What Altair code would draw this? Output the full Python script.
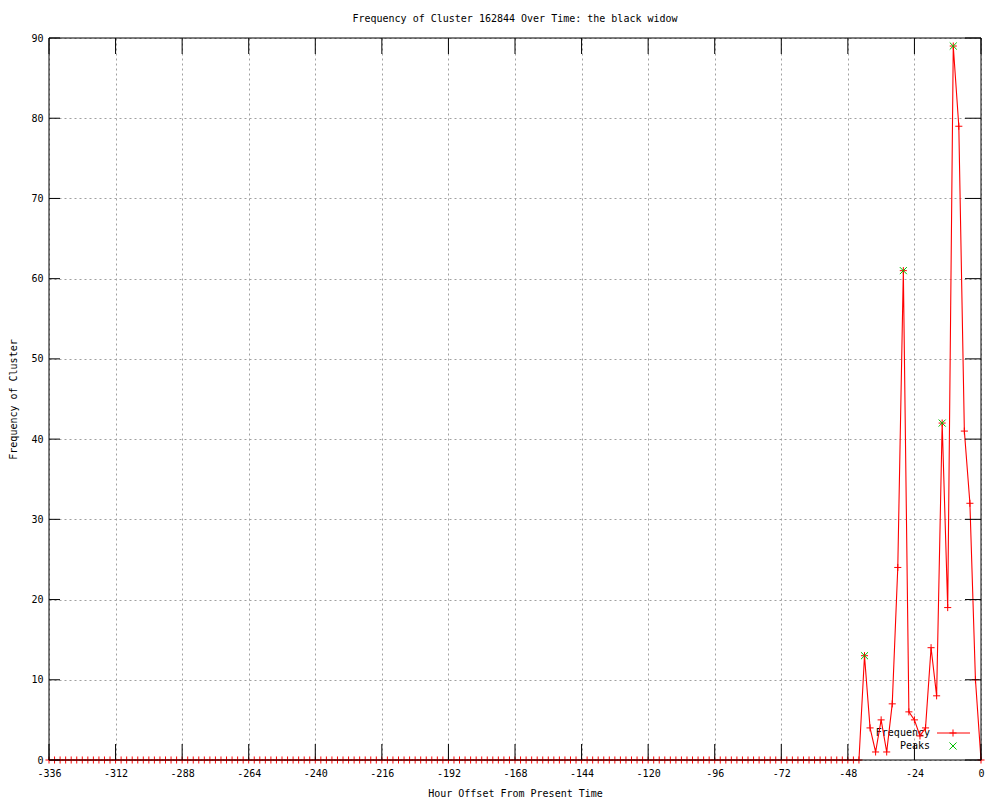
import altair as alt
import pandas as pd

# ---- data ----
hours = list(range(-336, 1, 2))
frequency = [
    0, 0, 0, 0, 0, 0, 0, 0, 0, 0, 0, 0, 0, 0, 0, 0, 0, 0, 0, 0, 0,
    0, 0, 0, 0, 0, 0, 0, 0, 0, 0, 0, 0, 0, 0, 0, 0, 0, 0, 0, 0, 0,
    0, 0, 0, 0, 0, 0, 0, 0, 0, 0, 0, 0, 0, 0, 0, 0, 0, 0, 0, 0, 0,
    0, 0, 0, 0, 0, 0, 0, 0, 0, 0, 0, 0, 0, 0, 0, 0, 0, 0, 0, 0, 0,
    0, 0, 0, 0, 0, 0, 0, 0, 0, 0, 0, 0, 0, 0, 0, 0, 0, 0, 0, 0, 0,
    0, 0, 0, 0, 0, 0, 0, 0, 0, 0, 0, 0, 0, 0, 0, 0, 0, 0, 0, 0, 0,
    0, 0, 0, 0, 0, 0, 0, 0, 0, 0, 0, 0, 0, 0, 0, 0, 0, 0, 0, 0, 0,
    13, 4, 1, 5, 1, 7, 24, 61, 6, 5, 3, 4, 14, 8, 42, 19, 89, 79, 41, 32, 10, 0,
]
peak_hours = [-42, -28, -14, -10]
peak_values = [13, 61, 42, 89]

x_ticks = [-336, -312, -288, -264, -240, -216, -192, -168, -144, -120, -96, -72, -48, -24, 0]
y_ticks = [0, 10, 20, 30, 40, 50, 60, 70, 80, 90]

title_text = "Frequency of Cluster 162844 Over Time: the black widow"
x_title = "Hour Offset From Present Time"
y_title = "Frequency of Cluster"
legend_labels = ["Frequency", "Peaks"]

# ---- styling ----
W, H = 932, 722
FONT = "DejaVu Sans Mono"
RED = "#ff0000"
GREEN = "#00c000"
PLUS = "M-1,0L1,0M0,-1L0,1"
XMARK = "M-1,-1L1,1M-1,1L1,-1"

df = pd.DataFrame({"hour": hours, "freq": frequency})
peaks = pd.DataFrame({"hour": peak_hours, "freq": peak_values})
xt = pd.DataFrame({"t": x_ticks})
yt = pd.DataFrame({"t": y_ticks})

xscale = alt.Scale(domain=[-336, 0], nice=False, zero=False)
yscale = alt.Scale(domain=[0, 90], nice=False, zero=True)

xaxis = alt.Axis(
    values=x_ticks, title=x_title, labelExpr="'' + datum.value",
    ticks=False, domain=False, grid=True, gridColor="#a0a0a0", gridDash=[2, 3],
    labelFont=FONT, labelFontSize=10, labelColor="black", labelPadding=8,
    titleFont=FONT, titleFontSize=10, titleFontWeight="normal", titleColor="black",
    titlePadding=10, labelFlush=False, labelOverlap=False,
)
yaxis = alt.Axis(
    values=y_ticks, title=y_title,
    ticks=False, domain=False, grid=True, gridColor="#a0a0a0", gridDash=[2, 3],
    labelFont=FONT, labelFontSize=10, labelColor="black", labelPadding=6,
    titleFont=FONT, titleFontSize=10, titleFontWeight="normal", titleColor="black",
    titlePadding=12, labelFlush=False,
)

base = alt.Chart(df)
line = base.mark_line(color=RED, strokeWidth=1.1).encode(
    x=alt.X("hour:Q", scale=xscale, axis=xaxis),
    y=alt.Y("freq:Q", scale=yscale, axis=yaxis),
)
pts = base.mark_point(shape=PLUS, size=50, filled=False, color=RED, strokeWidth=1, opacity=1).encode(
    x=alt.X("hour:Q", scale=xscale), y=alt.Y("freq:Q", scale=yscale)
)
peak_pts = alt.Chart(peaks).mark_point(shape=XMARK, size=50, filled=False, color=GREEN, strokeWidth=1, opacity=1).encode(
    x=alt.X("hour:Q", scale=xscale), y=alt.Y("freq:Q", scale=yscale)
)

# inward ticks on all four sides
tick_bottom = alt.Chart(xt).mark_rule(color="black", strokeWidth=1).encode(
    x=alt.X("t:Q", scale=xscale), y=alt.value(H), y2=alt.value(H - 16))
tick_top = alt.Chart(xt).mark_rule(color="black", strokeWidth=1).encode(
    x=alt.X("t:Q", scale=xscale), y=alt.value(0), y2=alt.value(16))
tick_left = alt.Chart(yt).mark_rule(color="black", strokeWidth=1).encode(
    y=alt.Y("t:Q", scale=yscale), x=alt.value(0), x2=alt.value(11))
tick_right = alt.Chart(yt).mark_rule(color="black", strokeWidth=1).encode(
    y=alt.Y("t:Q", scale=yscale), x=alt.value(W - 16), x2=alt.value(W))

border = alt.Chart(alt.Data(values=[{}])).mark_rect(fill="transparent", stroke="black", strokeWidth=1).encode(
    x=alt.value(0), x2=alt.value(W), y=alt.value(0), y2=alt.value(H))

# key (bottom right, inside the plot)
one = alt.Data(values=[{}])
key_t1 = alt.Chart(one).mark_text(text=legend_labels[0], font=FONT, fontSize=10, align="right", baseline="middle", color="black").encode(
    x=alt.value(881), y=alt.value(695))
key_t2 = alt.Chart(one).mark_text(text=legend_labels[1], font=FONT, fontSize=10, align="right", baseline="middle", color="black").encode(
    x=alt.value(881), y=alt.value(708))
key_line = alt.Chart(one).mark_rule(color=RED, strokeWidth=1).encode(
    x=alt.value(888), x2=alt.value(921), y=alt.value(695))
key_plus = alt.Chart(one).mark_point(shape=PLUS, size=50, filled=False, color=RED, strokeWidth=1, opacity=1).encode(
    x=alt.value(904), y=alt.value(695))
key_x = alt.Chart(one).mark_point(shape=XMARK, size=50, filled=False, color=GREEN, strokeWidth=1, opacity=1).encode(
    x=alt.value(904), y=alt.value(708))

chart = alt.layer(
    key_t1, key_t2, line, key_line, key_plus, key_x,
    pts, peak_pts, border, tick_bottom, tick_top, tick_left, tick_right,
).properties(
    width=W, height=H,
    title=alt.TitleParams(text=title_text, font=FONT, fontSize=10, fontWeight="normal",
                          color="black", offset=9, frame="group", anchor="middle"),
    autosize=alt.AutoSizeParams(type="none"),
    padding={"left": 41, "top": 30, "right": 10, "bottom": 40},
    background="white",
).configure_view(stroke=None)

chart.save("out.html", embed_options={"renderer": "svg", "actions": False})
